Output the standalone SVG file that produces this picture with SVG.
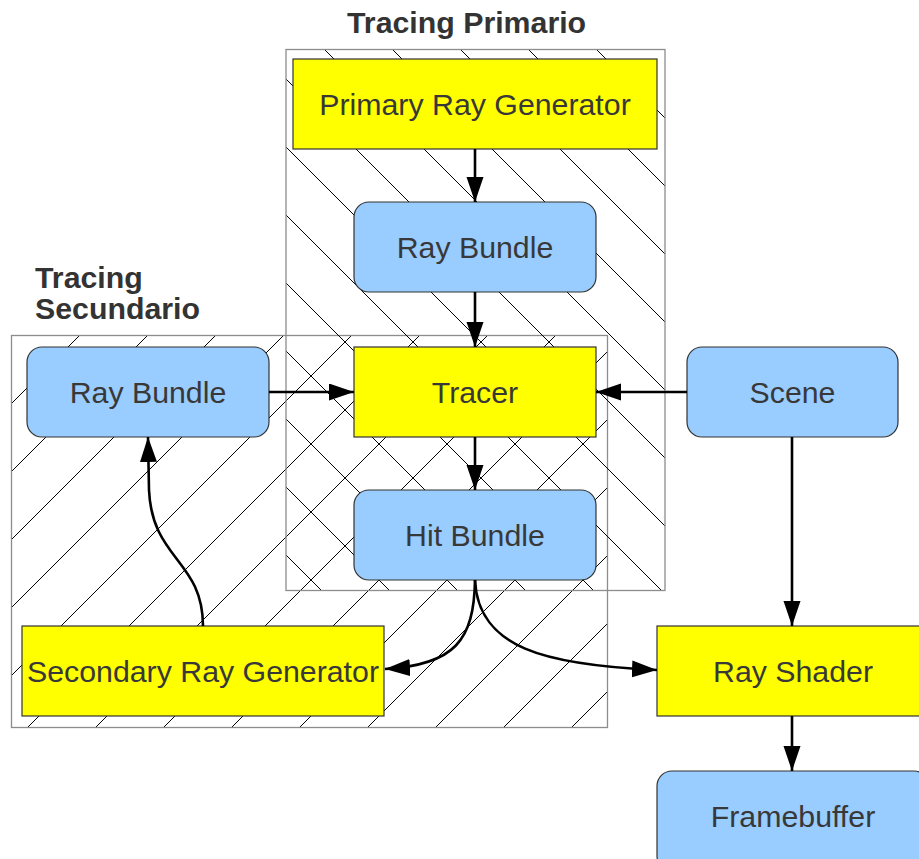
<svg xmlns="http://www.w3.org/2000/svg" width="919" height="859" viewBox="0 0 919 859">
  <style>
    .region { fill: none; stroke: #8c8c8c; stroke-width: 1.3; }
    .hatch { stroke: #000; stroke-width: 1; fill: none; }
    .proc { fill: #ffff00; stroke: #333; stroke-width: 1.2; }
    .data { fill: #99ccff; stroke: #333; stroke-width: 1.2; }
    .label { font-family: "Liberation Sans", Arial, sans-serif; font-size: 30.3px; fill: #383838; text-anchor: middle; }
    .title { font-family: "Liberation Sans", Arial, sans-serif; font-size: 30.3px; font-weight: bold; fill: #333; }
    .edge { fill: none; stroke: #000; stroke-width: 2.6; marker-end: url(#arrow); }
  </style>
  <defs>
    <clipPath id="clipSecundario"><rect x="11.5" y="335.5" width="596" height="392"/></clipPath>
    <clipPath id="clipPrimario"><rect x="286" y="49.5" width="379" height="541"/></clipPath>
    <marker id="arrow" markerUnits="userSpaceOnUse" markerWidth="26" markerHeight="18" refX="25" refY="8.5" orient="auto">
      <path d="M0,0 L25,8.5 L0,17 z" fill="#000"/>
    </marker>
  </defs>

  <!-- secondary tracing region: "/" hatching, x + y = 7 + 68k -->
  <g id="region-secundario">
    <g class="hatch" clip-path="url(#clipSecundario)">
      <path d="M17,330 L-383,730 M85,330 L-315,730 M153,330 L-247,730 M221,330 L-179,730 M289,330 L-111,730
               M357,330 L-43,730 M425,330 L25,730 M493,330 L93,730 M561,330 L161,730 M629,330 L229,730
               M697,330 L297,730 M765,330 L365,730 M833,330 L433,730 M901,330 L501,730 M969,330 L569,730"/>
    </g>
    <rect class="region" x="11.5" y="335.5" width="596" height="392"/>
    <text class="title" x="35" y="288">Tracing</text>
    <text class="title" x="35" y="319">Secundario</text>
  </g>

  <!-- primary tracing region: "\" hatching, x - y = 3 + 68k -->
  <g id="region-primario">
    <g class="hatch" clip-path="url(#clipPrimario)">
      <path d="M-229,40 L331,600 M-161,40 L399,600 M-93,40 L467,600 M-25,40 L535,600 M43,40 L603,600
               M111,40 L671,600 M179,40 L739,600 M247,40 L807,600 M315,40 L875,600 M383,40 L943,600
               M451,40 L1011,600 M519,40 L1079,600 M587,40 L1147,600 M655,40 L1215,600"/>
    </g>
    <rect class="region" x="286" y="49.5" width="379" height="541"/>
    <text class="title" x="347" y="33">Tracing Primario</text>
  </g>

  <!-- nodes -->
  <g id="primary-ray-generator">
    <rect class="proc" x="293" y="59" width="364" height="90"/>
    <text class="label" x="475" y="115">Primary Ray Generator</text>
  </g>
  <g id="ray-bundle-primary">
    <rect class="data" x="354" y="202" width="242" height="90" rx="15"/>
    <text class="label" x="475" y="258">Ray Bundle</text>
  </g>
  <g id="tracer">
    <rect class="proc" x="354" y="347" width="242" height="90"/>
    <text class="label" x="475" y="403">Tracer</text>
  </g>
  <g id="hit-bundle">
    <rect class="data" x="354" y="490" width="242" height="90" rx="15"/>
    <text class="label" x="475" y="546">Hit Bundle</text>
  </g>
  <g id="ray-bundle-secondary">
    <rect class="data" x="27" y="347" width="242" height="90" rx="15"/>
    <text class="label" x="148" y="403">Ray Bundle</text>
  </g>
  <g id="scene">
    <rect class="data" x="687" y="347" width="211" height="90" rx="15"/>
    <text class="label" x="792.5" y="403">Scene</text>
  </g>
  <g id="secondary-ray-generator">
    <rect class="proc" x="22" y="626" width="362" height="90"/>
    <text class="label" x="203" y="682">Secondary Ray Generator</text>
  </g>
  <g id="ray-shader">
    <rect class="proc" x="657" y="626" width="272" height="90"/>
    <text class="label" x="793" y="682">Ray Shader</text>
  </g>
  <g id="framebuffer">
    <rect class="data" x="657" y="771" width="272" height="100" rx="15"/>
    <text class="label" x="793" y="827">Framebuffer</text>
  </g>

  <!-- connectors -->
  <g id="connectors">
    <path class="edge" d="M475,149 L475,202"/>
    <path class="edge" d="M475,292 L475,347"/>
    <path class="edge" d="M475,437 L475,490"/>
    <path class="edge" d="M269,392 L354,392"/>
    <path class="edge" d="M687,392 L596,392"/>
    <path class="edge" d="M792,437 L792,626"/>
    <path class="edge" d="M792,716 L792,771"/>
    <path class="edge" d="M475,580 C474,640 455,665 385,669"/>
    <path class="edge" d="M475,580 C478,648 545,665 657,670"/>
    <path class="edge" d="M203,626 C203,560 152,560 149,490 L148,437"/>
  </g>
</svg>
